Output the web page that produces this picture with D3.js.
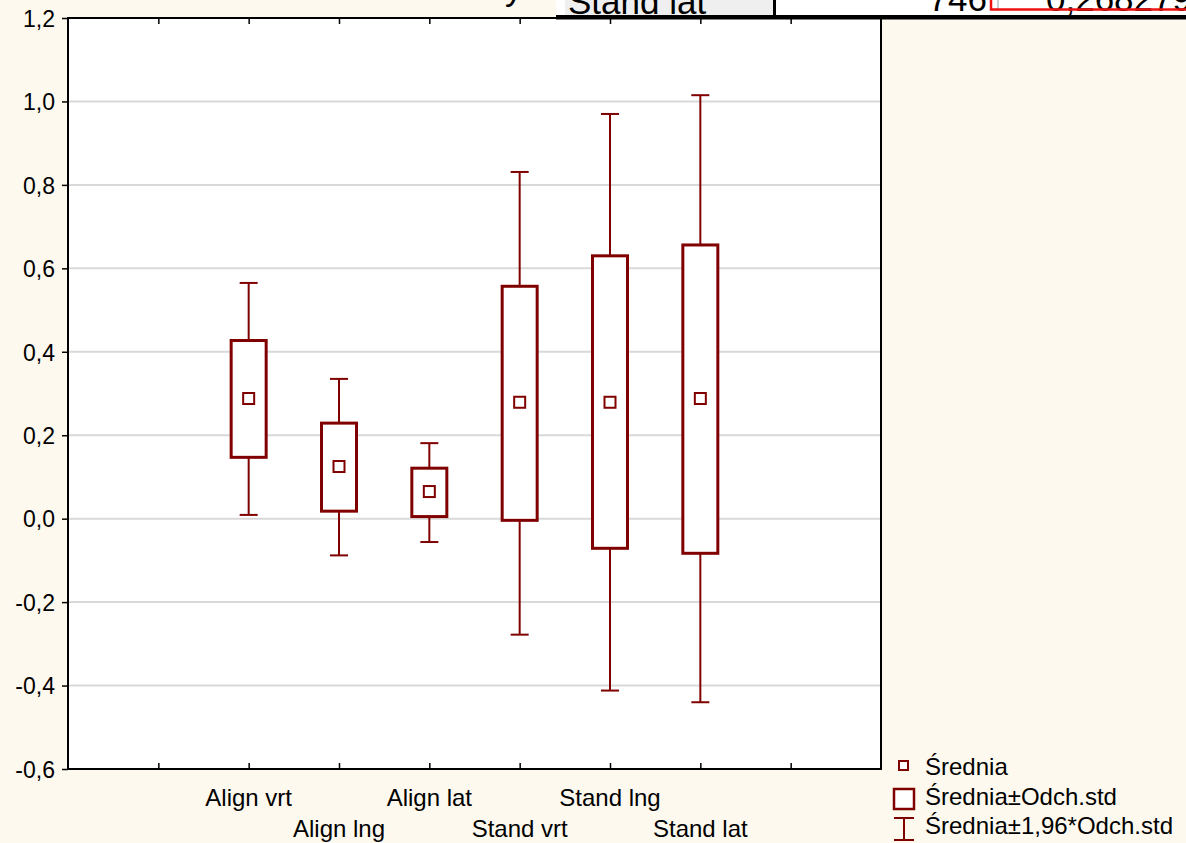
<!DOCTYPE html>
<html>
<head>
<meta charset="utf-8">
<script src="https://cdn.jsdelivr.net/npm/d3@7"></script>
<style>
  html, body { margin: 0; padding: 0; background: #fdf9ee; }
  svg { display: block; font-family: "Liberation Sans", Arial, sans-serif; }
</style>
</head>
<body>
<div id="chart"></div>
<script>
// Data
const categories = ["Align vrt", "Align lng", "Align lat", "Stand vrt", "Stand lng", "Stand lat"];
const means = [0.288, 0.125, 0.065, 0.279, 0.279, 0.288];
const boxTop = [0.427, 0.229, 0.121, 0.557, 0.630, 0.656];      // mean + sd
const boxBottom = [0.147, 0.018, 0.005, -0.004, -0.071, -0.083]; // mean - sd
const whiskerTop = [0.565, 0.335, 0.181, 0.831, 0.970, 1.015];   // mean + 1.96 sd
const whiskerBottom = [0.009, -0.088, -0.056, -0.278, -0.412, -0.440];
const yTicks = [-0.6, -0.4, -0.2, 0.0, 0.2, 0.4, 0.6, 0.8, 1.0, 1.2];
const xTickPositions = [1, 2, 3, 4, 5, 6, 7, 8];
const legendLabels = ["Średnia", "Średnia±Odch.std", "Średnia±1,96*Odch.std"];

const W = 1186, H = 843;
const plot = {left: 68, right: 881, top: 18, bottom: 769};
const red = "#800000";

const svg = d3.select("#chart").append("svg")
  .attr("width", W).attr("height", H)
  .attr("viewBox", `0 0 ${W} ${H}`);

svg.append("rect").attr("width", W).attr("height", H).attr("fill", "#fdf9ee");

const x = d3.scaleLinear().domain([0, 9]).range([plot.left, plot.right]);
const y = d3.scaleLinear().domain([-0.6, 1.2]).range([plot.bottom, plot.top]);
const fmt = (d) => d3.format(".1f")(d).replace(".", ",").replace("−", "-");

// plot background
svg.append("rect")
  .attr("x", plot.left).attr("y", plot.top)
  .attr("width", plot.right - plot.left).attr("height", plot.bottom - plot.top)
  .attr("fill", "white");

// gridlines
svg.append("g")
  .selectAll("line")
  .data(yTicks.filter((d) => d > -0.6 && d < 1.2))
  .enter().append("line")
  .attr("x1", plot.left).attr("x2", plot.right)
  .attr("y1", (d) => y(d)).attr("y2", (d) => y(d))
  .attr("stroke", "#d9d9d9").attr("stroke-width", 2);

// Y axis
const yAxis = svg.append("g")
  .attr("transform", `translate(${plot.left},0)`)
  .call(d3.axisLeft(y).tickValues(yTicks).tickFormat(fmt).tickSize(6).tickPadding(7))
  .call((g) => g.select(".domain").remove());
yAxis.selectAll("line").attr("stroke", "black").attr("stroke-width", 1.5);
yAxis.selectAll("text").attr("fill", "black").style("font-size", "23px")
  .style("font-family", "'Liberation Sans', Arial, sans-serif").attr("dy", "0.36em");

// X ticks inward (bottom and top)
svg.append("g")
  .attr("transform", `translate(0,${plot.bottom})`)
  .call(d3.axisBottom(x).tickValues(xTickPositions).tickSize(-6).tickFormat(""))
  .call((g) => g.select(".domain").remove())
  .selectAll("line").attr("stroke", "black").attr("stroke-width", 1.5);
svg.append("g")
  .attr("transform", `translate(0,${plot.top})`)
  .call(d3.axisTop(x).tickValues(xTickPositions).tickSize(-6).tickFormat(""))
  .call((g) => g.select(".domain").remove())
  .selectAll("line").attr("stroke", "black").attr("stroke-width", 1.5);

// category labels, staggered in two rows
svg.append("g")
  .selectAll("text")
  .data(categories)
  .enter().append("text")
  .attr("x", (d, i) => x(i + 2))
  .attr("y", (d, i) => (i % 2 === 0 ? 806 : 837))
  .attr("text-anchor", "middle")
  .style("font-size", "24px")
  .text((d) => d);

// plot border
svg.append("rect")
  .attr("x", plot.left).attr("y", plot.top)
  .attr("width", plot.right - plot.left).attr("height", plot.bottom - plot.top)
  .attr("fill", "none").attr("stroke", "black").attr("stroke-width", 2);

// boxes
const boxW = 35, capW = 18, meanS = 11;
const groups = svg.append("g")
  .selectAll("g")
  .data(categories)
  .enter().append("g");

groups.append("line")
  .attr("x1", (d, i) => x(i + 2)).attr("x2", (d, i) => x(i + 2))
  .attr("y1", (d, i) => y(whiskerTop[i])).attr("y2", (d, i) => y(boxTop[i]))
  .attr("stroke", red).attr("stroke-width", 2);
groups.append("line")
  .attr("x1", (d, i) => x(i + 2)).attr("x2", (d, i) => x(i + 2))
  .attr("y1", (d, i) => y(boxBottom[i])).attr("y2", (d, i) => y(whiskerBottom[i]))
  .attr("stroke", red).attr("stroke-width", 2);
groups.append("line")
  .attr("x1", (d, i) => x(i + 2) - capW / 2).attr("x2", (d, i) => x(i + 2) + capW / 2)
  .attr("y1", (d, i) => y(whiskerTop[i])).attr("y2", (d, i) => y(whiskerTop[i]))
  .attr("stroke", red).attr("stroke-width", 2);
groups.append("line")
  .attr("x1", (d, i) => x(i + 2) - capW / 2).attr("x2", (d, i) => x(i + 2) + capW / 2)
  .attr("y1", (d, i) => y(whiskerBottom[i])).attr("y2", (d, i) => y(whiskerBottom[i]))
  .attr("stroke", red).attr("stroke-width", 2);
groups.append("rect")
  .attr("x", (d, i) => x(i + 2) - boxW / 2).attr("width", boxW)
  .attr("y", (d, i) => y(boxTop[i]))
  .attr("height", (d, i) => y(boxBottom[i]) - y(boxTop[i]))
  .attr("fill", "white").attr("stroke", red).attr("stroke-width", 3);
groups.append("rect")
  .attr("x", (d, i) => x(i + 2) - meanS / 2).attr("width", meanS)
  .attr("y", (d, i) => y(means[i]) - meanS / 2).attr("height", meanS)
  .attr("fill", "white").attr("stroke", red).attr("stroke-width", 2);

// legend
const legend = svg.append("g").style("font-size", "24px");
legend.append("rect").attr("x", 899).attr("y", 761).attr("width", 9).attr("height", 9)
  .attr("fill", "white").attr("stroke", red).attr("stroke-width", 2);
legend.append("rect").attr("x", 894).attr("y", 789).attr("width", 20).attr("height", 20)
  .attr("fill", "white").attr("stroke", red).attr("stroke-width", 2.5);
legend.append("path").attr("d", "M894,818H914M904,818V840M894,840H914")
  .attr("fill", "none").attr("stroke", red).attr("stroke-width", 2);
legend.selectAll("text")
  .data(legendLabels)
  .enter().append("text")
  .attr("x", 925)
  .attr("y", (d, i) => [775, 805, 834][i])
  .text((d) => d);

// cropped spreadsheet overlay at the top edge
const table = svg.append("g");
table.append("text").attr("x", 505).attr("y", 0).style("font-size", "35px").text("y");
table.append("rect").attr("x", 556).attr("y", 0).attr("width", 630).attr("height", 16).attr("fill", "white");
table.append("rect").attr("x", 565).attr("y", 0).attr("width", 208).attr("height", 16).attr("fill", "#efefef");
table.append("rect").attr("x", 773).attr("y", 0).attr("width", 3).attr("height", 16).attr("fill", "black");
table.append("line").attr("x1", 998).attr("x2", 998).attr("y1", 0).attr("y2", 10)
  .attr("stroke", "#bbbbbb").attr("stroke-width", 1.5);
table.append("text").attr("x", 568).attr("y", 14).style("font-size", "35px").text("Stand lat");
table.append("text").attr("x", 987).attr("y", 11).attr("text-anchor", "end").style("font-size", "35px").text("746");
table.append("text").attr("x", 1046).attr("y", 11).style("font-size", "35px").text("0,268279");
table.append("rect").attr("x", 991).attr("y", -10).attr("width", 210).attr("height", 19.5)
  .attr("fill", "none").attr("stroke", "#ee1111").attr("stroke-width", 2.5);
table.append("rect").attr("x", 556).attr("y", 15).attr("width", 630).attr("height", 4.5).attr("fill", "black");
</script>
</body>
</html>
